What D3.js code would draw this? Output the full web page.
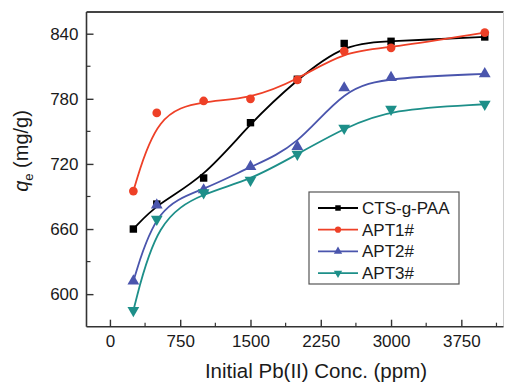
<!DOCTYPE html>
<html>
<head>
<meta charset="utf-8">
<script src="https://cdn.jsdelivr.net/npm/d3@7/dist/d3.min.js"></script>
<style>
  html, body { margin: 0; padding: 0; background: #fff; }
  svg { display: block; }
  text { font-family: "Liberation Sans", Arial, Helvetica, sans-serif; fill: #1a1a1a; }
</style>
</head>
<body>
<svg id="chart" width="505" height="383"></svg>
<script>
// ---- data ----
const concentrations = [250, 500, 1000, 1500, 2000, 2500, 3000, 4000];
const seriesNames = ["CTS-g-PAA", "APT1#", "APT2#", "APT3#"];
const ctsGPAA = [660, 683, 707, 758, 798, 831, 833, 837];
const apt1 = [695, 767, 778, 780, 797.5, 824, 827, 841];
const apt2 = [612, 682, 696, 717.5, 736, 790, 799.5, 803];
const apt3 = [585, 669, 693.5, 705, 729, 753, 770.5, 775];
const xTicks = [0, 750, 1500, 2250, 3000, 3750];
const yTicks = [600, 660, 720, 780, 840];
const xTitle = "Initial Pb(II) Conc. (ppm)";

const seriesValues = [ctsGPAA, apt1, apt2, apt3];
const colors = ["#000000", "#ee4027", "#4a55ad", "#1d8f89"];
const symbols = [d3.symbolSquare, d3.symbolCircle, d3.symbolTriangle, "down"];

const svg = d3.select("#chart");
const pL = 86.5, pR = 503.5, pT = 12, pB = 326.7;

const x = d3.scaleLinear().domain([-250, 4200]).range([pL, pR]);
const y = d3.scaleLinear().domain([570, 860]).range([pB, pT]);

// frame
svg.append("line").attr("x1", pL).attr("x2", pR).attr("y1", pT).attr("y2", pT)
  .attr("stroke", "#444").attr("stroke-width", 2);
svg.append("line").attr("x1", pR).attr("x2", pR).attr("y1", pT).attr("y2", pB)
  .attr("stroke", "#ccc").attr("stroke-width", 1);

// x axis (ticks inside)
const xAxis = d3.axisBottom(x).tickValues(xTicks).tickFormat(d3.format("d"))
  .tickSize(-7).tickPadding(8).tickSizeOuter(0);
const gx = svg.append("g").attr("transform", `translate(0,${pB})`).call(xAxis);
gx.select(".domain").attr("stroke", "#333").attr("stroke-width", 1.6).attr("d", `M${pL},0H${pR}`);
gx.selectAll(".tick line").attr("stroke", "#333").attr("stroke-width", 1.4);
gx.selectAll(".tick text").attr("font-size", 17).attr("fill", "#1a1a1a")
  .style("font-family", "'Liberation Sans', Arial, sans-serif");
const xMinor = d3.range(375, 4200, 750);
gx.selectAll(".minor").data(xMinor).enter().append("line")
  .attr("x1", d => x(d)).attr("x2", d => x(d)).attr("y1", 0).attr("y2", -4)
  .attr("stroke", "#333").attr("stroke-width", 1.2);

// y axis (ticks inside)
const yAxis = d3.axisLeft(y).tickValues(yTicks).tickFormat(d3.format("d"))
  .tickSize(-7).tickPadding(8).tickSizeOuter(0);
const gy = svg.append("g").attr("transform", `translate(${pL},0)`).call(yAxis);
gy.select(".domain").attr("stroke", "#333").attr("stroke-width", 1.6).attr("d", `M0,${pT}V${pB}`);
gy.selectAll(".tick line").attr("stroke", "#333").attr("stroke-width", 1.4);
gy.selectAll(".tick text").attr("font-size", 17).attr("fill", "#1a1a1a")
  .style("font-family", "'Liberation Sans', Arial, sans-serif");
const yMinor = d3.range(630, 860, 60);
gy.selectAll(".minor").data(yMinor).enter().append("line")
  .attr("x1", 0).attr("x2", 4).attr("y1", d => y(d)).attr("y2", d => y(d))
  .attr("stroke", "#333").attr("stroke-width", 1.2);

// axis titles
svg.append("text").attr("x", 316).attr("y", 378).attr("text-anchor", "middle")
  .attr("font-size", 20.5).text(xTitle);
const yl = svg.append("text").attr("transform", "translate(28,151) rotate(-90)")
  .attr("text-anchor", "middle").attr("font-size", 20);
yl.append("tspan").attr("font-style", "italic").text("q");
yl.append("tspan").attr("font-size", 13).attr("dy", 5).text("e");
yl.append("tspan").attr("dy", -5).text(" (mg/g)");

function markerPath(sym, size) {
  if (sym === "down") {
    return d3.symbol().type(d3.symbolTriangle).size(size)();
  }
  return d3.symbol().type(sym).size(size)();
}

const line = d3.line().x(d => x(d[0])).y(d => y(d[1])).curve(d3.curveBasis);

seriesValues.forEach((vals, i) => {
  const pts = concentrations.map((c, j) => [c, vals[j]]);
  svg.append("path").attr("d", line(pts)).attr("fill", "none")
    .attr("stroke", colors[i]).attr("stroke-width", 1.8);
  const sz = symbols[i] === d3.symbolCircle ? 60 : (symbols[i] === d3.symbolSquare ? 55 : 60);
  svg.append("g").selectAll("path").data(pts).enter().append("path")
    .attr("d", markerPath(symbols[i], sz))
    .attr("transform", d => `translate(${x(d[0])},${y(d[1])})` + (symbols[i] === "down" ? " rotate(180)" : ""))
    .attr("fill", colors[i]);
});

// legend
const lg = svg.append("g");
lg.append("rect").attr("x", 309).attr("y", 192).attr("width", 150).attr("height", 92)
  .attr("fill", "#fff").attr("stroke", "#555").attr("stroke-width", 1.2);
seriesNames.forEach((name, i) => {
  const yy = 208 + i * 21.7;
  lg.append("line").attr("x1", 318).attr("x2", 358).attr("y1", yy).attr("y2", yy)
    .attr("stroke", colors[i]).attr("stroke-width", 1.8);
  lg.append("path").attr("d", markerPath(symbols[i], 30))
    .attr("transform", `translate(338,${yy})` + (symbols[i] === "down" ? " rotate(180)" : ""))
    .attr("fill", colors[i]);
  lg.append("text").attr("x", 362).attr("y", yy + 6).attr("font-size", 17).text(name);
});
</script>
</body>
</html>
